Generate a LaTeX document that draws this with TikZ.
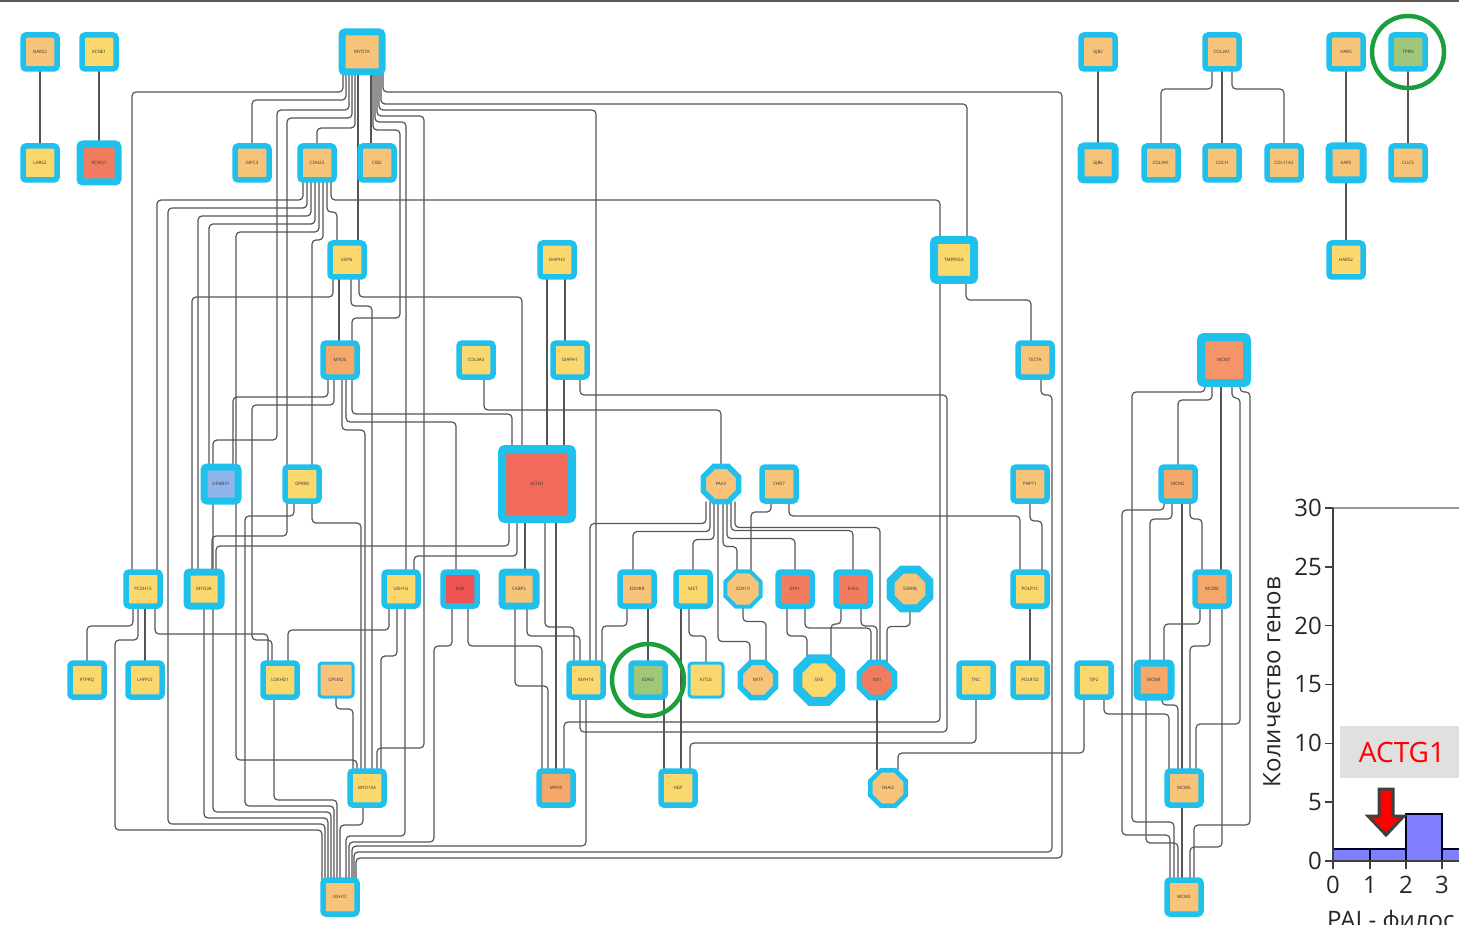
\documentclass[tikz,border=0pt]{standalone}
\usepackage{fontspec}
\setmainfont{Open Sans}
\usetikzlibrary{shapes.geometric, backgrounds}
\definecolor{ring}{RGB}{32,192,236}
\definecolor{gOrange}{RGB}{248,196,122}
\definecolor{gYellow}{RGB}{250,216,110}
\definecolor{gDeep}{RGB}{245,168,106}
\definecolor{gCoral}{RGB}{244,148,104}
\definecolor{gSalmon}{RGB}{242,124,96}
\definecolor{gActg}{RGB}{242,106,90}
\definecolor{gRed}{RGB}{238,84,84}
\definecolor{gGreen}{RGB}{160,198,122}
\definecolor{gBlue}{RGB}{142,182,236}
\definecolor{linkgray}{RGB}{85,85,85}
\definecolor{hitgreen}{RGB}{26,158,62}
\definecolor{barblue}{RGB}{128,128,255}

\tikzset{
  gene/.style={draw=ring, line width=5.5pt, rounded corners=3pt, fill=#1,
    minimum size=34pt, inner sep=0pt, outer sep=0pt,
    font=\fontsize{4.5}{5}\selectfont, text=black!80},
  gene/.default=gOrange,
  tf/.style={regular polygon, regular polygon sides=8, draw=ring, line width=5.5pt,
    fill=#1, minimum size=38pt, inner sep=0pt, outer sep=0pt,
    font=\fontsize{4.5}{5}\selectfont, text=black!80},
  tf/.default=gOrange,
  link/.style={draw=linkgray, line width=1.2pt, rounded corners=4pt},
  hit/.style={draw=hitgreen, line width=4.5pt},
  ticklab/.style={font=\fontsize{24}{26}\selectfont, text=black!85, inner sep=0pt}
}

\begin{document}
\begin{tikzpicture}[x=1pt, y=-1pt]
  \useasboundingbox (0,0) rectangle (1459,925);
  \draw[black!65, line width=2pt] (0,1) -- (1459,1);

  % genes
  \node[gene] (NARS2) at (40,52) {NARS2};
  \node[gene=gYellow] (KCNE1) at (99,52) {KCNE1};
  \node[gene, minimum size=40pt, line width=7pt] (MYO7A) at (362,52) {MYO7A};
  \node[gene] (GJB2) at (1098,52) {GJB2};
  \node[gene] (COL2A1) at (1222,52) {COL2A1};
  \node[gene] (HARS) at (1346,52) {HARS};
  \node[gene=gGreen] (TPRN) at (1408,52) {TPRN};

  \node[gene=gYellow] (LARS2) at (40,163) {LARS2};
  \node[gene=gSalmon, minimum size=38pt, line width=7pt] (KCNQ1) at (99,163) {KCNQ1};
  \node[gene] (GIPC3) at (252,163) {GIPC3};
  \node[gene] (CDH23) at (317,163) {CDH23};
  \node[gene] (CIB2) at (377,163) {CIB2};
  \node[gene, line width=7pt] (GJB6) at (1098,163) {GJB6};
  \node[gene] (COL9A1) at (1161,163) {COL9A1};
  \node[gene] (COCH) at (1222,163) {COCH};
  \node[gene] (COL11A2) at (1284,163) {COL11A2};
  \node[gene, line width=7pt] (KARS) at (1346,163) {KARS};
  \node[gene] (CLIC5) at (1408,163) {CLIC5};

  \node[gene=gYellow] (ESPN) at (347,260) {ESPN};
  \node[gene=gYellow] (DIAPH3) at (557,260) {DIAPH3};
  \node[gene=gYellow, minimum size=40pt, line width=8pt] (TMPRSS3) at (954,260) {TMPRSS3};
  \node[gene=gYellow] (HARS2) at (1346,260) {HARS2};

  \node[gene=gDeep] (MYO6) at (340,360) {MYO6};
  \node[gene=gYellow] (COL4A3) at (476,360) {COL4A3};
  \node[gene=gYellow] (DIAPH1) at (570,360) {DIAPH1};
  \node[gene] (TECTA) at (1035,360) {TECTA};
  \node[gene=gCoral, minimum size=46pt, line width=8pt] (MCM7) at (1224,360) {MCM7};

  \node[gene=gBlue, line width=7pt] (DFNB31) at (221,484) {DFNB31};
  \node[gene=gYellow] (GPR98) at (302,484) {GPR98};
  \node[gene=gActg, minimum size=70pt, line width=8pt] (ACTG1) at (537,484) {ACTG1};
  \node[tf] (PAX3) at (721,484) {PAX3};
  \node[gene] (CHD7) at (779,484) {CHD7};
  \node[gene] (PNPT1) at (1030,484) {PNPT1};
  \node[gene=gDeep] (MCM2) at (1178,484) {MCM2};

  \node[gene=gYellow] (PCDH15) at (143,589) {PCDH15};
  \node[gene=gYellow, line width=7pt] (MYO3A) at (204,589) {MYO3A};
  \node[gene=gYellow] (USH1G) at (401,589) {USH1G};
  \node[gene=gRed] (RDX) at (460,589) {RDX};
  \node[gene, line width=7pt] (CABP2) at (519,589) {CABP2};
  \node[gene] (EDNRB) at (637,589) {EDNRB};
  \node[gene=gYellow] (MET) at (693,589) {MET};
  \node[tf, line width=4pt] (SOX10) at (743,589) {SOX10};
  \node[gene=gSalmon] (EYA1) at (795,589) {EYA1};
  \node[gene=gSalmon] (EYA4) at (853,589) {EYA4};
  \node[tf, line width=8pt, minimum size=42pt] (ESRRB) at (910,589) {ESRRB};
  \node[gene=gYellow] (POLR1C) at (1030,589) {POLR1C};
  \node[gene=gDeep] (MCM6) at (1212,589) {MCM6};

  \node[gene=gYellow] (PTPRQ) at (87,680) {PTPRQ};
  \node[gene=gYellow] (LHFPL5) at (145,680) {LHFPL5};
  \node[gene=gYellow] (LOXHD1) at (280,680) {LOXHD1};
  \node[gene, line width=3pt] (GPSM2) at (336,680) {GPSM2};
  \node[gene=gYellow] (MYH14) at (586,680) {MYH14};
  \node[gene=gGreen] (EDN3) at (648,680) {EDN3};
  \node[gene=gYellow, line width=3pt] (KITLG) at (706,680) {KITLG};
  \node[tf] (MITF) at (758,680) {MITF};
  \node[tf=gYellow, line width=9pt, minimum size=46pt] (SIX5) at (819,680) {SIX5};
  \node[tf=gSalmon] (SIX1) at (877,680) {SIX1};
  \node[gene=gYellow] (TNC) at (976,680) {TNC};
  \node[gene=gYellow] (POLR1D) at (1030,680) {POLR1D};
  \node[gene=gYellow] (TJP2) at (1094,680) {TJP2};
  \node[gene=gDeep, line width=7pt] (MCM4) at (1154,680) {MCM4};

  \node[gene=gYellow] (MYO15A) at (367,788) {MYO15A};
  \node[gene=gDeep] (MYH9) at (556,788) {MYH9};
  \node[gene=gYellow] (HGF) at (678,788) {HGF};
  \node[tf, line width=4.5pt] (SNAI2) at (888,788) {SNAI2};
  \node[gene] (MCM5) at (1184,788) {MCM5};

  \node[gene] (USH1C) at (340,897) {USH1C};
  \node[gene] (MCM3) at (1184,897) {MCM3};

  % highlighted genes
  \draw[hit] (TPRN.center) circle[radius=36];
  \draw[hit] (EDN3.center) circle[radius=36];

  \begin{pgfonlayer}{background}
  % small groups
  \draw[link] (NARS2.south) -- (LARS2.north);
  \draw[link] (KCNE1.south) -- (KCNQ1.north);
  \draw[link] (GJB2.south) -- (GJB6.north);
  \draw[link] ([xshift=-10pt]COL2A1.south) -- ++(0,20) -| (COL9A1.north);
  \draw[link] (COL2A1.south) -- (COCH.north);
  \draw[link] ([xshift=10pt]COL2A1.south) -- ++(0,20) -| (COL11A2.north);
  \draw[link] (HARS.south) -- (KARS.north);
  \draw[link] (KARS.south) -- (HARS2.north);
  \draw[link] (TPRN.south) -- (CLIC5.north);

  % MYO7A
  \draw[link] ([xshift=-19pt]MYO7A.south) |- (132,92) -- ([xshift=-11pt]PCDH15.north);
  \draw[link] ([xshift=-16pt]MYO7A.south) -- ++(0,28) -| (GIPC3.north);
  \draw[link] ([xshift=-13pt]MYO7A.south) |- (277,110) -- (277,440) -| ([xshift=-8pt]DFNB31.north);
  \draw[link] ([xshift=-10pt]MYO7A.south) |- (287,118) -- (287,536) -| ([xshift=8pt]MYO3A.north);
  \draw[link] ([xshift=-7pt]MYO7A.south) -- ++(0,56) -| (CDH23.north);
  \draw[link] ([xshift=-4pt]MYO7A.south) -- ([xshift=11pt]ESPN.north);
  \draw[link] ([xshift=9pt]MYO7A.south) -- ([xshift=-6pt]CIB2.north);
  \draw[link] ([xshift=11pt]MYO7A.south) |- (400,130) -- (400,318) -| ([xshift=12pt]MYO6.north);
  \draw[link] ([xshift=13pt]MYO7A.south) |- (406,122) -- ([xshift=5pt]USH1G.north);
  \draw[link] ([xshift=15pt]MYO7A.south) |- (424,116) -- (424,748) -| ([xshift=10pt]MYO15A.north);
  \draw[link] ([xshift=17pt]MYO7A.south) |- (596,110) -- ([xshift=10pt]MYH14.north);
  \draw[link] ([xshift=19pt]MYO7A.south) |- (967,104) -- ([xshift=13pt]TMPRSS3.north);
  \draw[link] ([xshift=21pt]MYO7A.south) |- (1062,92) -- (1062,858) -| ([xshift=16pt]USH1C.north);

  % CDH23
  \draw[link] ([xshift=-14pt]CDH23.south) |- (157,200) -- ([xshift=14pt]PCDH15.north);
  \draw[link] ([xshift=-10pt]CDH23.south) |- (168,208) -- (168,824) -| ([xshift=-15pt]USH1C.north);
  \draw[link] ([xshift=-6pt]CDH23.south) |- (198,216) -- ([xshift=-6pt]MYO3A.north);
  \draw[link] ([xshift=-2pt]CDH23.south) |- (209,224) -- ([xshift=-12pt]DFNB31.north);
  \draw[link] ([xshift=2pt]CDH23.south) |- (236,232) -- (236,760) -| ([xshift=-10pt]MYO15A.north);
  \draw[link] ([xshift=6pt]CDH23.south) |- (312,240) -- ([xshift=10pt]GPR98.north);
  \draw[link] ([xshift=10pt]CDH23.south) |- (337,212) -- ([xshift=-10pt]ESPN.north);
  \draw[link] ([xshift=14pt]CDH23.south) |- (940,200) -- ([xshift=-14pt]TMPRSS3.north);

  % ESPN, MYO6, COL4A3, DIAPH
  \draw[link] ([xshift=-8pt]ESPN.south) -- ([xshift=-1pt]MYO6.north);
  \draw[link] ([xshift=-14pt]ESPN.south) |- (192,297) -- ([xshift=-12pt]MYO3A.north);
  \draw[link] ([xshift=4pt]ESPN.south) |- (372,306) -- ([xshift=5pt]MYO15A.north);
  \draw[link] ([xshift=12pt]ESPN.south) |- (522,297) -- ([xshift=-15pt]ACTG1.north);
  \draw[link] ([xshift=-12pt]MYO6.south) |- (233,397) -- ([xshift=12pt]DFNB31.north);
  \draw[link] ([xshift=-6pt]MYO6.south) |- (252,405) -- (252,640) -| ([xshift=-8pt]LOXHD1.north);
  \draw[link] ([xshift=2pt]MYO6.south) |- (365,430) -- ([xshift=-2pt]MYO15A.north);
  \draw[link] ([xshift=6pt]MYO6.south) |- (456,422) -- ([xshift=-4pt]RDX.north);
  \draw[link] ([xshift=12pt]MYO6.south) |- (512,414) -- ([xshift=-25pt]ACTG1.north);
  \draw[link] ([xshift=8pt]COL4A3.south) |- (721,410) -- (PAX3.north);
  \draw[link] ([xshift=8pt]DIAPH3.south) -- ([xshift=-5pt]DIAPH1.north);
  \draw[link] ([xshift=-10pt]DIAPH3.south) -- ([xshift=10pt]ACTG1.north);
  \draw[link] ([xshift=-6pt]DIAPH1.south) -- ([xshift=27pt]ACTG1.north);
  \draw[link] ([xshift=10pt]DIAPH1.south) |- (947,395) -- (947,732) -| ([xshift=-6pt]MYH14.south);

  % TMPRSS3, TECTA
  \draw[link] ([xshift=12pt]TMPRSS3.south) -- ++(0,20) -| ([xshift=-4pt]TECTA.north);
  \draw[link] ([xshift=-14pt]TMPRSS3.south) -- (940,722) -| ([xshift=8pt]MYH9.north);
  \draw[link] ([xshift=6pt]TECTA.south) -- ++(0,18) -| (1052,852) -| ([xshift=14pt]USH1C.north);

  % ACTG1
  \draw[link] ([xshift=-28pt]ACTG1.south) -- ++(0,27) -| ([xshift=12pt]MYO3A.north);
  \draw[link] ([xshift=-20pt]ACTG1.south) -- ++(0,37) -| ([xshift=13pt]USH1G.north);
  \draw[link] ([xshift=-12pt]ACTG1.south) -- ([xshift=6pt]CABP2.north);
  \draw[link] ([xshift=8pt]ACTG1.south) -- ++(0,108) -| ([xshift=-12pt]MYH14.north);
  \draw[link] ([xshift=19pt]ACTG1.south) -- (MYH9.north);

  % Usher lower part
  \draw[link] ([xshift=-10pt]PCDH15.south) -- ++(0,20) -| (PTPRQ.north);
  \draw[link] ([xshift=2pt]PCDH15.south) -- (LHFPL5.north);
  \draw[link] ([xshift=12pt]PCDH15.south) -- ++(0,28) -| ([xshift=-12pt]LOXHD1.north);
  \draw[link] ([xshift=-5pt]PCDH15.south) |- (115,640) -- (115,830) -| ([xshift=-18pt]USH1C.north);
  \draw[link] (MYO3A.south) -- ++(0,212) -| ([xshift=-12pt]USH1C.north);
  \draw[link] ([xshift=-8pt]DFNB31.south) -- ++(0,311) -| ([xshift=-9pt]USH1C.north);
  \draw[link] ([xshift=-8pt]GPR98.south) |- (245,516) -- (245,806) -| ([xshift=-6pt]USH1C.north);
  \draw[link] ([xshift=10pt]GPR98.south) -- ++(0,22) -| ([xshift=-6pt]MYO15A.north);
  \draw[link] ([xshift=-6pt]LOXHD1.south) -- ++(0,103) -| ([xshift=-3pt]USH1C.north);
  \draw[link] (GPSM2.south) -- ++(0,12) -| ([xshift=-14pt]MYO15A.north);
  \draw[link] ([xshift=-12pt]USH1G.south) -- ++(0,24) -| ([xshift=8pt]LOXHD1.north);
  \draw[link] ([xshift=-4pt]USH1G.south) -- ++(0,50) -| ([xshift=14pt]MYO15A.north);
  \draw[link] ([xshift=4pt]USH1G.south) -- ++(0,230) -| ([xshift=6pt]USH1C.north);
  \draw[link] ([xshift=-8pt]RDX.south) -- ++(0,40) -| (434,842) -| ([xshift=9pt]USH1C.north);
  \draw[link] ([xshift=8pt]RDX.south) -- ++(0,40) -| ([xshift=-14pt]MYH9.north);
  \draw[link] ([xshift=-4pt]CABP2.south) -- ++(0,80) -| ([xshift=-8pt]MYH9.north);
  \draw[link] ([xshift=8pt]CABP2.south) -- ++(0,30) -| ([xshift=-6pt]MYH14.north);
  \draw[link] ([xshift=-4pt]MYO15A.south) -- ++(0,20) -| (USH1C.north);
  \draw[link] (MYH14.south) -- ++(0,149) -| ([xshift=12pt]USH1C.north);

  % PAX3 and neighbours
  \draw[link] ([xshift=-15pt]PAX3.south) -- ++(0,22) -| ([xshift=4pt]MYH14.north);
  \draw[link] ([xshift=-11pt]PAX3.south) -- ++(0,30) -| ([xshift=-4pt]EDNRB.north);
  \draw[link] ([xshift=-7pt]PAX3.south) -- ++(0,38) -| (MET.north);
  \draw[link] ([xshift=-3pt]PAX3.south) -- ++(0,140) -| ([xshift=-8pt]MITF.north);
  \draw[link] ([xshift=2pt]PAX3.south) -- ++(0,45) -| ([xshift=-6pt]SOX10.north);
  \draw[link] ([xshift=6pt]PAX3.south) -- ++(0,37) -| (EYA1.north);
  \draw[link] ([xshift=10pt]PAX3.south) -- ++(0,29) -| (EYA4.north);
  \draw[link] ([xshift=14pt]PAX3.south) -- ++(0,26) -| ([xshift=3pt]SIX1.north);
  \draw[link] ([xshift=-8pt]CHD7.south) -- ++(0,11) -| ([xshift=8pt]SOX10.north);
  \draw[link] ([xshift=10pt]CHD7.south) -- ++(0,15) -| ([xshift=-10pt]POLR1C.north);
  \draw[link] (PNPT1.south) -- ++(0,20) -| ([xshift=12pt]POLR1C.north);
  \draw[link] (POLR1C.south) -- (POLR1D.north);
  \draw[link] ([xshift=11pt]EDNRB.south) -- (EDN3.north);
  \draw[link] ([xshift=-10pt]EDNRB.south) -- ++(0,20) -| ([xshift=16pt]MYH14.north);
  \draw[link] ([xshift=-12pt]MET.south) -- ([xshift=3pt]HGF.north);
  \draw[link] ([xshift=-4pt]MET.south) -- ++(0,30) -| (KITLG.north);
  \draw[link] ([xshift=16pt]EDN3.south) -- ([xshift=-14pt]HGF.north);
  \draw[link] (SOX10.south) -- ++(0,15) -| ([xshift=8pt]MITF.north);
  \draw[link] ([xshift=-8pt]EYA1.south) -- ++(0,30) -| ([xshift=-12pt]SIX5.north);
  \draw[link] ([xshift=10pt]EYA1.south) -- ++(0,22) -| ([xshift=-6pt]SIX1.north);
  \draw[link] ([xshift=-12pt]EYA4.south) -- ++(0,18) -| ([xshift=12pt]SIX5.north);
  \draw[link] ([xshift=8pt]EYA4.south) -- ++(0,20) -| (SIX1.north);
  \draw[link] (ESRRB.south) -- ++(0,18) -| ([xshift=10pt]SIX1.north);
  \draw[link] (SIX1.south) -- ([xshift=-11pt]SNAI2.north);
  \draw[link] (TNC.south) -- ++(0,46) -| ([xshift=12pt]HGF.north);
  \draw[link] ([xshift=-10pt]TJP2.south) -- ++(0,56) -| ([xshift=10pt]SNAI2.north);
  \draw[link] ([xshift=10pt]TJP2.south) -- ++(0,17) -| ([xshift=-15pt]MCM5.north);

  % MCM complex
  \draw[link] ([xshift=-19pt]MCM7.south) |- (1132,392) -- (1132,822) -| ([xshift=-10pt]MCM3.north);
  \draw[link] ([xshift=-12pt]MCM7.south) -- ++(0,17) -| (MCM2.north);
  \draw[link] ([xshift=-3pt]MCM7.south) -- ([xshift=9pt]MCM6.north);
  \draw[link] ([xshift=8pt]MCM7.south) |- (1240,398) -- (1240,724) -| ([xshift=12pt]MCM5.north);
  \draw[link] ([xshift=16pt]MCM7.south) |- (1250,392) -- (1250,825) -| ([xshift=10pt]MCM3.north);
  \draw[link] ([xshift=-14pt]MCM2.south) |- (1122,510) -- (1122,835) -| ([xshift=-14pt]MCM3.north);
  \draw[link] ([xshift=-6pt]MCM2.south) -- ++(0,18) -| ([xshift=-4pt]MCM4.north);
  \draw[link] ([xshift=4pt]MCM2.south) -- ([xshift=-2pt]MCM5.north);
  \draw[link] ([xshift=12pt]MCM2.south) -- ++(0,18) -| ([xshift=-10pt]MCM6.north);
  \draw[link] ([xshift=-12pt]MCM6.south) -- ++(0,18) -| ([xshift=10pt]MCM4.north);
  \draw[link] ([xshift=-2pt]MCM6.south) -- ++(0,40) -| ([xshift=6pt]MCM5.north);
  \draw[link] ([xshift=10pt]MCM6.south) -- ++(0,241) -| ([xshift=6pt]MCM3.north);
  \draw[link] ([xshift=8pt]MCM4.south) -- ++(0,8) -| ([xshift=-6pt]MCM5.north);
  \draw[link] ([xshift=-8pt]MCM4.south) -- ++(0,146) -| ([xshift=-6pt]MCM3.north);
  \draw[link] ([xshift=-2pt]MCM5.south) -- ([xshift=-2pt]MCM3.north);
  \end{pgfonlayer}

  % PAI histogram
  \draw[black!40, line width=1.5pt] (1333,508) -- (1459,508);
  \fill[barblue] (1333,849) rectangle (1370,861);
  \fill[barblue] (1370,849) rectangle (1406,861);
  \fill[barblue] (1406,814) rectangle (1442,861);
  \fill[barblue] (1442,849) rectangle (1470,861);
  \draw[black!85!blue, line width=1.8pt] (1333,849) -- (1406,849) (1406,814) rectangle (1442,861)
    (1442,849) -- (1470,849) (1370,849) -- (1370,861);
  \draw[black!75, line width=2.5pt] (1333,508) -- (1333,861) -- (1459,861);
  \foreach \v in {0,5,...,30} {
    \draw[black!75, line width=1.5pt] (1325,{861-11.77*\v}) -- (1333,{861-11.77*\v});
    \node[ticklab, anchor=east] (yt\v) at (1322,{861-11.77*\v}) {\v};
  }
  \foreach \v/\x in {0/1333,1/1370,2/1406,3/1442} {
    \draw[black!75, line width=1.5pt] (\x,861) -- (\x,869);
    \node[ticklab, anchor=north] (xt\v) at (\x,876) {\v};
  }
  \node[ticklab, rotate=90] (ylab) at (1272,682) {Количество генов};
  \node[ticklab, anchor=base west] (xlab) at (1327,928) {PAI - филос};
  \fill[black!12] (1340,726) rectangle (1465,778);
  \node[font=\fontsize{28}{30}\selectfont, text=red, inner sep=0pt] (hitlab) at (1402,752) {ACTG1};
  \draw[fill=red, draw=black!75, line width=3pt, line join=miter]
    (1379,789) -- (1393,789) -- (1393,816) -- (1404,816) -- (1386,835) -- (1368,816) -- (1379,816) -- cycle;
\end{tikzpicture}
\end{document}
